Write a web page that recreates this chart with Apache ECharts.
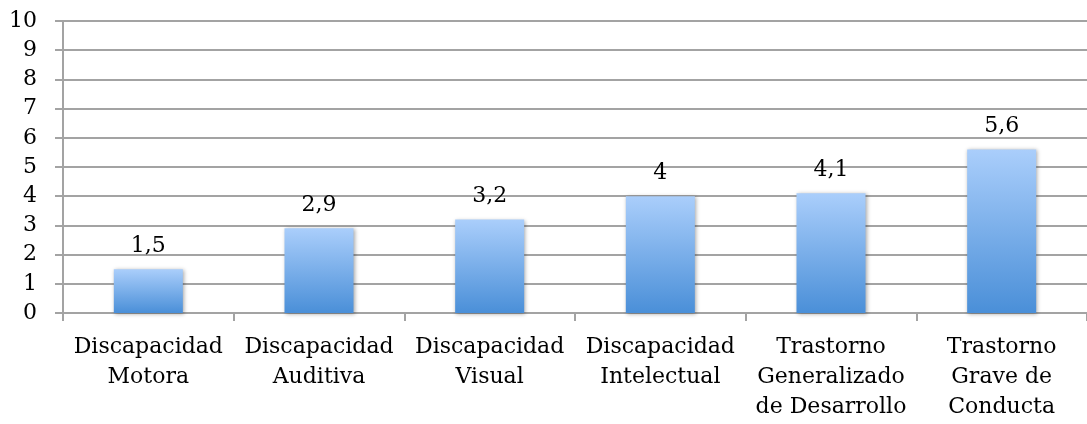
<!DOCTYPE html>
<html>
<head>
<meta charset="utf-8">
<style>
  html, body { margin: 0; padding: 0; background: #ffffff; }
  #chart { width: 1087px; height: 424px; }
</style>
<script src="https://cdn.jsdelivr.net/npm/echarts@6/dist/echarts.min.js"></script>
</head>
<body>
<div id="chart"></div>
<script>
// Categories (line breaks as shown under each bar)
const categories = [
  'Discapacidad\nMotora',
  'Discapacidad\nAuditiva',
  'Discapacidad\nVisual',
  'Discapacidad\nIntelectual',
  'Trastorno\nGeneralizado\nde Desarrollo',
  'Trastorno\nGrave de\nConducta'
];
const values = [1.5, 2.9, 3.2, 4, 4.1, 5.6];
const yTicks = [0, 1, 2, 3, 4, 5, 6, 7, 8, 9, 10];

const FONT = '"DejaVu Serif", "Liberation Serif", serif';
const LINE = '#a3a3a3';

const chart = echarts.init(document.getElementById('chart'), null, { renderer: 'canvas' });

chart.setOption({
  animation: false,
  backgroundColor: '#ffffff',
  grid: { left: 63, right: -4, top: 21, bottom: 111 },
  xAxis: {
    type: 'category',
    data: categories,
    boundaryGap: true,
    axisLine: { show: true, lineStyle: { color: LINE, width: 2 } },
    axisTick: { show: true, length: 8, alignWithLabel: false, lineStyle: { color: LINE, width: 2 } },
    axisLabel: {
      interval: 0,
      margin: 19,
      color: '#000000',
      fontFamily: FONT,
      fontSize: 22,
      lineHeight: 30
    }
  },
  yAxis: {
    type: 'value',
    min: yTicks[0],
    max: yTicks[yTicks.length - 1],
    interval: 1,
    axisLine: { show: true, lineStyle: { color: LINE, width: 2 } },
    axisTick: { show: true, length: 8, lineStyle: { color: LINE, width: 2 } },
    splitLine: { show: true, lineStyle: { color: LINE, width: 2 } },
    axisLabel: {
      margin: 26,
      color: '#000000',
      fontFamily: FONT,
      fontSize: 22
    }
  },
  series: [{
    type: 'bar',
    data: values,
    barWidth: 69,
    itemStyle: {
      color: new echarts.graphic.LinearGradient(0, 0, 0, 1, [
        { offset: 0, color: '#aacefb' },
        { offset: 1, color: '#4a8fd8' }
      ]),
      shadowColor: 'rgba(0,0,0,0.35)',
      shadowBlur: 4,
      shadowOffsetX: 1,
      shadowOffsetY: 1
    },
    label: {
      show: true,
      position: 'top',
      distance: 12,
      color: '#000000',
      fontFamily: FONT,
      fontSize: 22,
      formatter: p => String(p.value).replace('.', ',')
    }
  }]
});
</script>
</body>
</html>
